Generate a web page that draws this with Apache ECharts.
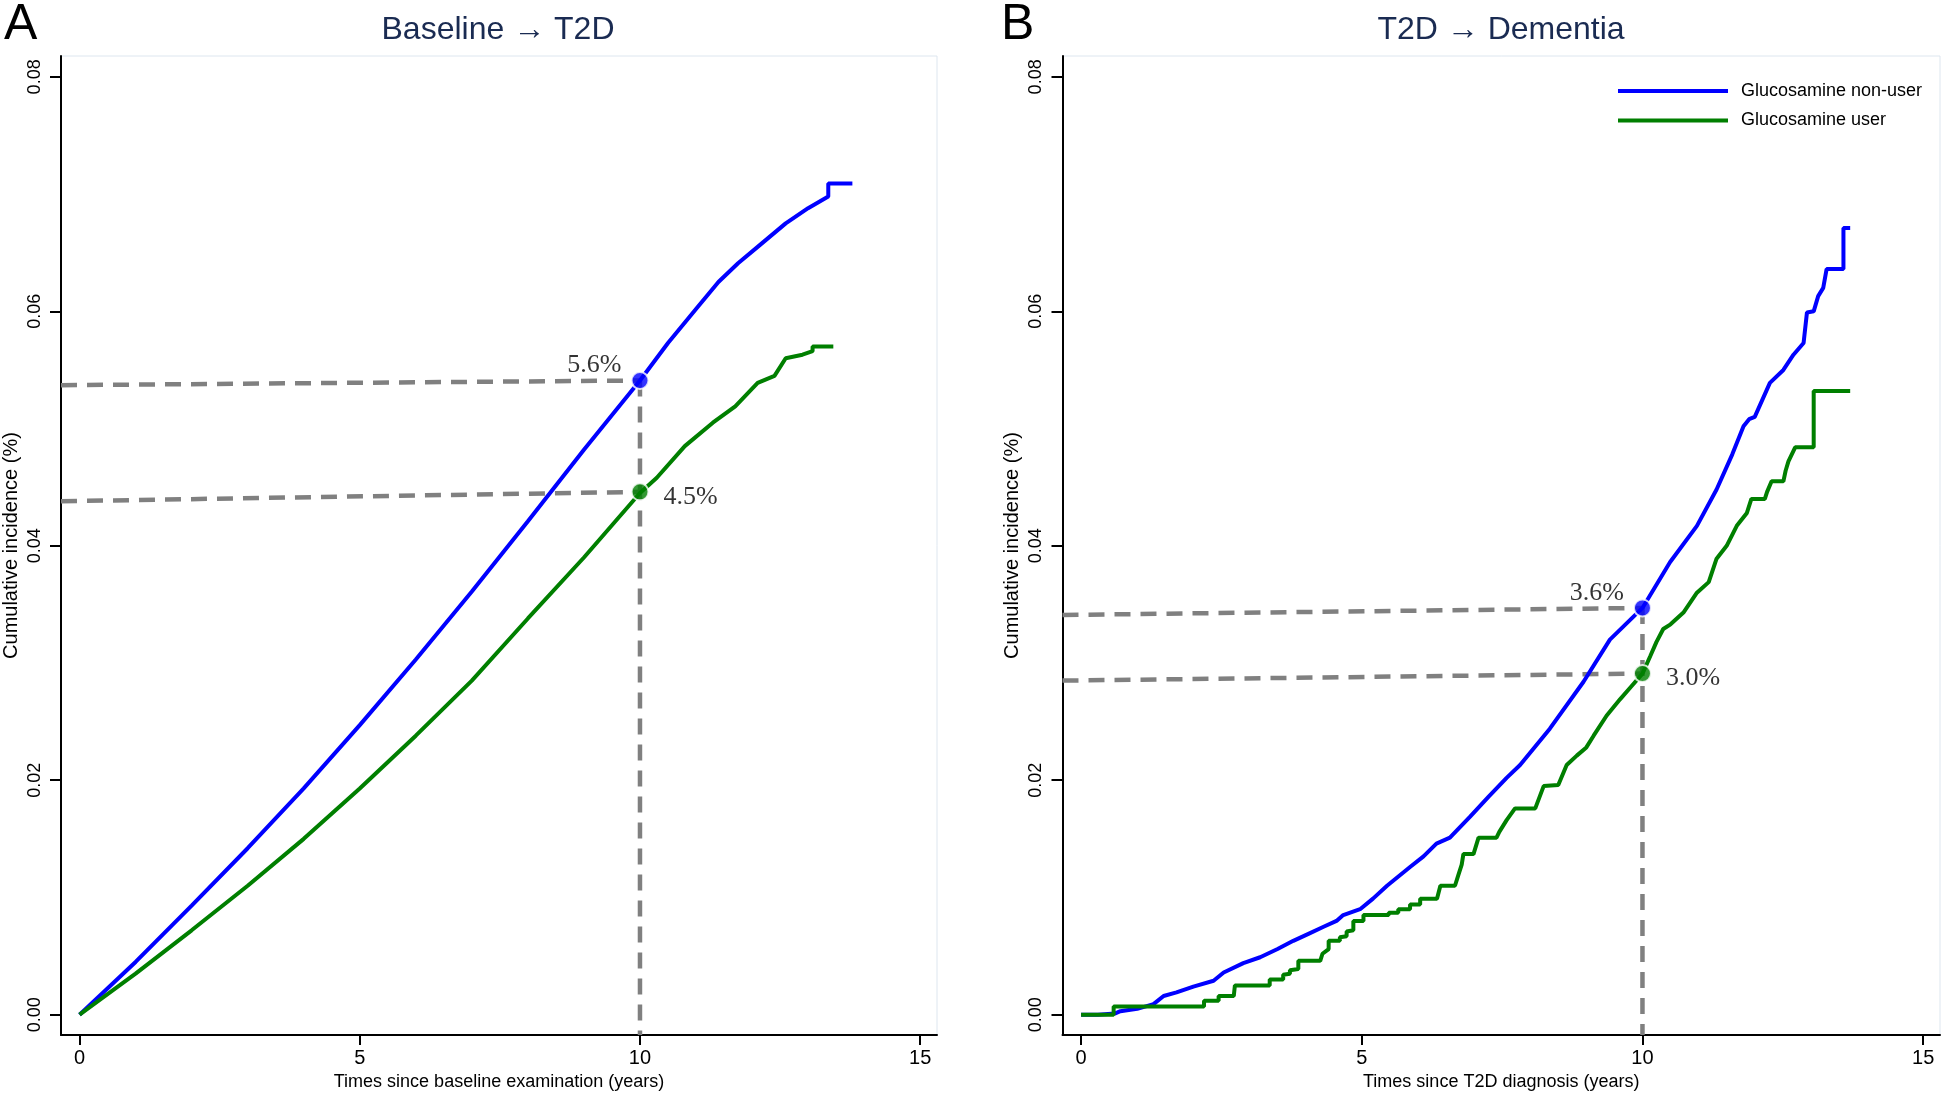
<!DOCTYPE html>
<html>
<head>
<meta charset="utf-8">
<script src="https://cdn.jsdelivr.net/npm/echarts@6/dist/echarts.min.js"></script>
<style>
  html, body { margin: 0; padding: 0; background: #ffffff; }
  #chart { width: 1944px; height: 1096px; }
</style>
</head>
<body>
<div id="chart"></div>
<script>
// ---------- data ----------
const panelLetters = ['A', 'B'];
const panelTitles = ['Baseline \u2192 T2D', 'T2D \u2192 Dementia'];
const xAxisNames = ['Times since baseline examination (years)', 'Times since T2D diagnosis (years)'];
const yAxisName = 'Cumulative incidence (%)';
const seriesNames = ['Glucosamine non-user', 'Glucosamine user'];
const xTicks = [0, 5, 10, 15];
const yTicks = [0, 0.02, 0.04, 0.06, 0.08];

// Panel A: Baseline -> T2D  [years, cumulative incidence]
const aNonUser = [[0,0],[1,0.0045],[2,0.0093],[3,0.0142],[4,0.0193],[5,0.0247],[6,0.0303],[7,0.0361],[8,0.0421],[9,0.0482],[10,0.0541],[10.5,0.0573],[11,0.0602],[11.4,0.0625],[11.75,0.0641],[12.1,0.0655],[12.6,0.0675],[13,0.0688],[13.36,0.0698],[13.36,0.0709],[13.79,0.0709]];
const aUser = [[0,0],[1,0.0035],[2,0.0072],[3,0.0110],[4,0.0150],[5,0.0193],[6,0.0238],[7,0.0285],[8,0.0338],[9,0.0390],[10,0.0445],[10.3,0.0458],[10.8,0.0485],[11.3,0.0505],[11.7,0.0519],[12.1,0.0539],[12.4,0.0545],[12.6,0.0560],[12.9,0.0563],[13.08,0.0566],[13.08,0.0570],[13.45,0.0570]];

// Panel B: T2D -> Dementia
const bNonUser = [[0,0],[0.3,0],[0.3,0.0001],[0.6,0.0001],[0.7,0.0003],[1.0,0.0005],[1.29,0.0009],[1.47,0.0016],[1.7,0.0019],[2.0,0.0024],[2.36,0.0029],[2.54,0.0036],[2.89,0.0044],[3.19,0.0049],[3.5,0.0056],[3.78,0.0063],[4.05,0.0069],[4.32,0.0075],[4.55,0.0080],[4.67,0.0085],[4.97,0.0090],[5.2,0.0099],[5.45,0.0110],[5.86,0.0126],[6.1,0.0135],[6.33,0.0146],[6.57,0.0151],[6.75,0.0160],[6.93,0.0169],[7.26,0.0186],[7.58,0.0202],[7.82,0.0213],[8.35,0.0244],[8.95,0.0284],[9.42,0.0320],[10,0.0347],[10.49,0.0386],[10.97,0.0417],[11.32,0.0448],[11.6,0.0478],[11.8,0.0502],[11.9,0.0508],[12.0,0.0510],[12.27,0.0539],[12.51,0.0550],[12.69,0.0563],[12.87,0.0573],[12.93,0.0599],[13.05,0.0600],[13.13,0.0613],[13.22,0.0620],[13.28,0.0636],[13.58,0.0636],[13.58,0.0671],[13.70,0.0671]];
const bUser = [[0,0],[0.58,0],[0.58,0.0007],[2.19,0.0007],[2.19,0.0012],[2.45,0.0012],[2.45,0.0016],[2.72,0.0016],[2.74,0.0025],[3.36,0.0025],[3.36,0.0030],[3.6,0.0030],[3.6,0.0034],[3.72,0.0035],[3.72,0.0038],[3.87,0.0039],[3.87,0.0046],[4.26,0.0046],[4.30,0.0052],[4.41,0.0056],[4.41,0.0063],[4.61,0.0063],[4.61,0.0066],[4.73,0.0067],[4.73,0.0071],[4.85,0.0072],[4.85,0.0080],[5.03,0.0080],[5.03,0.0085],[5.48,0.0085],[5.48,0.0087],[5.65,0.0087],[5.65,0.0090],[5.86,0.0090],[5.86,0.0094],[6.04,0.0094],[6.04,0.0099],[6.34,0.0099],[6.40,0.0110],[6.66,0.0110],[6.72,0.0119],[6.78,0.0128],[6.81,0.0137],[6.99,0.0137],[7.08,0.0151],[7.40,0.0151],[7.45,0.0156],[7.58,0.0166],[7.73,0.0176],[8.09,0.0176],[8.24,0.0195],[8.50,0.0196],[8.65,0.0213],[8.83,0.0221],[9.0,0.0228],[9.13,0.0238],[9.36,0.0255],[9.6,0.0269],[9.8,0.0280],[10,0.0291],[10.14,0.0306],[10.25,0.0318],[10.37,0.0329],[10.5,0.0333],[10.73,0.0343],[10.97,0.0360],[11.18,0.0369],[11.32,0.0389],[11.5,0.0400],[11.68,0.0417],[11.86,0.0428],[11.94,0.0440],[12.18,0.0440],[12.22,0.0446],[12.30,0.0455],[12.51,0.0455],[12.55,0.0464],[12.60,0.0472],[12.72,0.0484],[13.05,0.0484],[13.05,0.0532],[13.70,0.0532]];

// 10-year estimates (point value, label, dashed-line value at the y axis)
const markYear = 10;
const aMarks = [{ v: 0.0541, left: 0.0537, label: '5.6%' }, { v: 0.0446, left: 0.0438, label: '4.5%' }];
const bMarks = [{ v: 0.0347, left: 0.0341, label: '3.6%' }, { v: 0.0291, left: 0.0285, label: '3.0%' }];

// ---------- style ----------
const colors = ['#0000ff', '#007f00'];
const narrow = "'Liberation Sans Narrow', 'Arial Narrow', 'Liberation Sans', Arial, sans-serif";
const sans = "'Liberation Sans', Arial, sans-serif";
const serif = "'Liberation Serif', 'Times New Roman', serif";
const xMin = -0.331, xMax = 15.30;
const yMin = -0.00174, yMax = 0.08178;
const grids = [
  { left: 59.5, top: 56, width: 877.5, height: 981 },
  { left: 1062.5, top: 56, width: 877.5, height: 981 }
];

const chart = echarts.init(document.getElementById('chart'), null, { renderer: 'canvas' });

function xAxis(i) {
  return {
    type: 'value', gridIndex: i, min: xMin, max: xMax,
    name: xAxisNames[i], nameLocation: 'middle', nameGap: 33,
    nameTextStyle: { fontFamily: narrow, fontSize: 18, color: '#000' },
    axisLine: { show: true, onZero: false, lineStyle: { color: '#000', width: 2 } },
    axisTick: { show: true, length: 10, customValues: xTicks, lineStyle: { color: '#000', width: 2 } },
    axisLabel: { customValues: xTicks, margin: 13, fontFamily: narrow, fontSize: 20, color: '#000', formatter: v => String(v) },
    splitLine: { show: false }
  };
}
function yAxis(i) {
  return {
    type: 'value', gridIndex: i, min: yMin, max: yMax,
    name: yAxisName, nameLocation: 'middle', nameGap: 40,
    nameTextStyle: { fontFamily: sans, fontSize: 20, color: '#000' },
    axisLine: { show: true, onZero: false, lineStyle: { color: '#000', width: 2 } },
    axisTick: { show: true, length: 11, customValues: yTicks, lineStyle: { color: '#000', width: 2 } },
    axisLabel: { customValues: yTicks, rotate: 90, margin: 17, fontFamily: sans, fontSize: 18, color: '#000', formatter: v => v.toFixed(2) },
    splitLine: { show: false }
  };
}

function panelSeries(i, nonUser, user, marks) {
  const dash = { color: '#808080', width: 4.5, type: [16, 10] };
  const out = [];
  marks.forEach((m, k) => {
    out.push({
      type: 'line', name: 'ref' + i + k, xAxisIndex: i, yAxisIndex: i, silent: true,
      data: [[xMin, m.left], [markYear, m.v]], symbol: 'none', lineStyle: dash, z: 1
    });
  });
  out.push({
    type: 'line', name: 'refv' + i, xAxisIndex: i, yAxisIndex: i, silent: true,
    data: [[markYear, marks[0].v], [markYear, yMin]], symbol: 'none', lineStyle: dash, z: 1
  });
  [nonUser, user].forEach((d, k) => {
    out.push({
      type: 'line', name: seriesNames[k], xAxisIndex: i, yAxisIndex: i,
      data: d, symbol: 'none',
      lineStyle: { color: colors[k], width: 4 }, itemStyle: { color: colors[k] }, z: 2
    });
  });
  marks.forEach((m, k) => {
    out.push({
      type: 'scatter', name: 'pt' + i + k, xAxisIndex: i, yAxisIndex: i,
      data: [[markYear, m.v]], symbolSize: 17, z: 3,
      itemStyle: { color: colors[k], borderColor: '#fff', borderWidth: 2 },
      label: {
        show: true, formatter: m.label, fontFamily: serif, fontSize: 26, color: '#000',
        position: k === 0 ? 'left' : 'right', distance: k === 0 ? 9 : 14,
        offset: k === 0 ? [0, -15] : [0, 5]
      }
    });
  });
  return out;
}

const option = {
  backgroundColor: '#fff',
  animation: false,
  grid: grids.map(g => Object.assign({ show: true, borderColor: '#dde6ef', borderWidth: 1, backgroundColor: 'transparent' }, g)),
  xAxis: [xAxis(0), xAxis(1)],
  yAxis: [yAxis(0), yAxis(1)],
  legend: {
    data: seriesNames, orient: 'vertical', left: 1613, top: 76,
    icon: 'rect', itemWidth: 110, itemHeight: 4, itemGap: 9.5,
    textStyle: { fontFamily: narrow, fontSize: 18, color: '#000', lineHeight: 20, padding: [0, 0, 0, 8] },
    selectedMode: false
  },
  graphic: [
    { type: 'text', x: 4, y: 0, style: { text: panelLetters[0], font: '50px ' + narrow, fill: '#000' } },
    { type: 'text', x: 1001, y: 0, style: { text: panelLetters[1], font: '50px ' + narrow, fill: '#000' } },
    { type: 'text', x: 498, y: 30, style: { text: panelTitles[0], font: '32px ' + narrow, fill: '#1a2b52', align: 'center', verticalAlign: 'middle' } },
    { type: 'text', x: 1501, y: 30, style: { text: panelTitles[1], font: '32px ' + narrow, fill: '#1a2b52', align: 'center', verticalAlign: 'middle' } }
  ],
  series: [].concat(panelSeries(0, aNonUser, aUser, aMarks), panelSeries(1, bNonUser, bUser, bMarks))
};
chart.setOption(option);
</script>
</body>
</html>
